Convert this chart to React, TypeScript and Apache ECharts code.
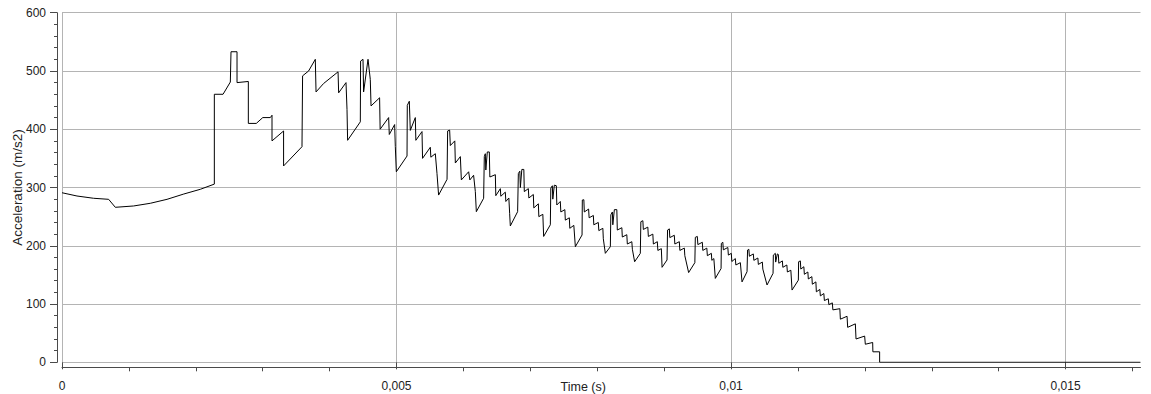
import React, { useEffect, useRef } from "react";
import * as echarts from "echarts";

// Time (s)
const timeS: number[] = [
  0, 0.000224, 0.000472, 0.000697, 0.000797, 0.00107, 0.00132, 0.00157, 0.00182, 0.002067, 0.002277,
  0.002277, 0.002407, 0.002516, 0.002526, 0.002616, 0.002616, 0.002785, 0.002785, 0.002904, 0.003001,
  0.003114, 0.003139, 0.003139, 0.003312, 0.003312, 0.003587, 0.003596, 0.003686, 0.003786, 0.003797,
  0.00391, 0.004126, 0.004135, 0.004245, 0.00426, 0.004269, 0.004459, 0.004463, 0.004499, 0.004508,
  0.004574, 0.004608, 0.004619, 0.004747, 0.004755, 0.004882, 0.004892, 0.004972, 0.004982, 0.004997,
  0.005157,
  0.005161, 0.005191, 0.005206, 0.005281, 0.005289, 0.005381, 0.005389, 0.005505, 0.005513, 0.00558,
  0.005605, 0.005629, 0.005755, 0.005764, 0.005794,
  0.005804, 0.005871, 0.005879, 0.005954, 0.005969, 0.006078, 0.006096, 0.006152, 0.006178, 0.006193,
  0.006302, 0.006312, 0.006327, 0.006335, 0.006357, 0.006387, 0.006395,
  0.006477, 0.006484, 0.006552, 0.006559, 0.006626, 0.006634, 0.006679, 0.006691, 0.006701, 0.00681,
  0.006821, 0.006843, 0.006851, 0.006873, 0.006903, 0.00691, 0.00697, 0.006978, 0.007045, 0.007052,
  0.00712, 0.007127, 0.007187, 0.007199, 0.007299, 0.007306, 0.007329, 0.007336, 0.007359, 0.007389,
  0.007396,
  0.007448, 0.007456, 0.007516, 0.007523, 0.007583, 0.00759, 0.00765, 0.007673, 0.007773, 0.007777,
  0.0078, 0.007807, 0.007871, 0.007879, 0.007942, 0.007949, 0.008016, 0.008024, 0.008084, 0.008091,
  0.008121, 0.008196, 0.008203, 0.008226, 0.008233, 0.008256, 0.008293, 0.0083,
  0.008368, 0.008375, 0.008442, 0.00845, 0.008517, 0.008525, 0.008559, 0.008644, 0.008652,
  0.008682, 0.008689, 0.008756, 0.008764, 0.008831, 0.008839, 0.008898, 0.008906, 0.008958, 0.008969,
  0.009043, 0.009051,
  0.009078, 0.009085, 0.009152, 0.00916, 0.009227, 0.009235, 0.009302, 0.009309, 0.009366, 0.009459,
  0.009466,
  0.009496, 0.009504, 0.009571, 0.009578, 0.009638, 0.009646, 0.009706, 0.009713, 0.009743, 0.009765,
  0.009851, 0.009855, 0.009877,
  0.009885, 0.009952, 0.00996, 0.010004, 0.010012, 0.010064, 0.010072, 0.010139, 0.010164, 0.010239,
  0.010247,
  0.010266, 0.010274, 0.010333, 0.010341, 0.010401, 0.010408, 0.010468, 0.010475, 0.010538, 0.010628,
  0.010632, 0.010662, 0.010667, 0.010692, 0.010707, 0.010714,
  0.010767, 0.010774, 0.010834, 0.010842, 0.010894, 0.010912, 0.011006, 0.01101,
  0.011036, 0.011043, 0.011088, 0.011096, 0.011148, 0.011155, 0.011208, 0.011215, 0.011268, 0.011275,
  0.011327, 0.011335, 0.011387, 0.011395, 0.011454, 0.011462, 0.011514, 0.011522, 0.011626, 0.011634,
  0.011734, 0.011743, 0.011858, 0.011868, 0.011997, 0.012007, 0.012117, 0.01212, 0.012221, 0.012221,
  0.016118,
];

// Acceleration (m/s2)
const accel: number[] = [
  291, 285.4, 281.5, 279.7, 266, 268.3, 272.9, 279.7, 288.8, 296.9, 305.8,
  460, 460, 481, 533, 533, 480, 482, 410, 410, 420,
  420, 424, 380, 397, 337, 370, 491.6, 500, 520, 464,
  478.5, 498.5, 462.5, 480, 434, 381, 412.7, 517, 520, 464,
  520, 485.5, 440, 454, 400, 420, 391, 408, 370, 327,
  354,
  441, 448, 398, 420, 381, 396, 350, 369, 352, 358,
  324, 287, 314, 397, 398.5,
  372, 380, 342, 353, 313, 327, 313, 321, 293, 258.5,
  281.5, 353, 358, 330, 361, 361, 318,
  322, 286, 298, 285, 292, 276, 282, 255, 234, 258.5,
  324, 328, 300, 331, 331, 293, 298, 282, 288, 265,
  272, 250, 254, 216, 236, 299, 303, 280, 304, 303,
  270,
  276, 258, 262, 244, 248, 230, 235, 198.4, 218.5, 278.5,
  279, 258, 263, 248, 252, 236, 240, 226, 230, 212,
  187, 198.4, 253, 258, 236, 262, 262, 227,
  231, 215, 219, 203, 207, 194, 172.6, 187, 241.3,
  243, 228, 232, 216, 220, 203, 207, 192, 195, 163,
  175.6, 227,
  229, 214, 218, 203, 207, 192, 196, 183, 154, 171,
  214.5,
  216, 202, 206, 192, 196, 183, 187, 175, 178, 144,
  161, 204, 206,
  193, 197, 184, 187, 173, 178, 167, 171, 138, 155.5,
  192.7,
  194, 182, 186, 175, 179, 168, 172, 160, 132.7, 152.7,
  184, 187, 172, 186, 185, 170,
  174, 163, 167, 155, 158, 124, 141, 172.6,
  174, 160, 164, 151, 155, 143, 147, 134, 138, 121,
  125, 114, 118, 106, 109, 99, 102, 90, 92, 74,
  79, 60, 66, 40, 45, 31, 34, 18, 18, 0,
  0,
];

const X_MAX = 0.01612;
const X_STEP = 0.005;
const X_MAJOR = [0, 0.005, 0.01, 0.015];
const X_MINOR = [0.001, 0.002, 0.003, 0.004, 0.006, 0.007, 0.008, 0.009, 0.011, 0.012, 0.013, 0.014, 0.016];
const Y_MIN = 0;
const Y_MAX = 600;
const Y_STEP = 100;

const FONT = "'Liberation Sans', Arial, sans-serif";
const TEXT_COLOR = "#222";
const AXIS_COLOR = "#4a4a4a";
const GRID_COLOR = "#b4b4b4";

export default function App() {
  const ref = useRef<HTMLDivElement>(null);

  useEffect(() => {
    document.body.style.margin = "0";
    if (!ref.current) return;
    const chart = echarts.init(ref.current, null, { renderer: "svg" });
    const points = timeS.map((t, i) => [t, accel[i]]);
    const fmt = (v: number) => String(v).replace(".", ",");

    chart.setOption({
      animation: false,
      backgroundColor: "#ffffff",
      textStyle: { fontFamily: FONT },
      grid: { left: 62, right: 10.5, top: 12.7, bottom: 31.7, containLabel: false, outerBoundsMode: "none" },
      xAxis: [
        {
          // data axis: axis line, name and vertical grid lines
          type: "value",
          position: "bottom",
          min: 0,
          max: X_MAX,
          interval: X_STEP,
          offset: 5,
          name: "Time (s)",
          nameLocation: "middle",
          nameGap: 13,
          nameMoveOverlap: false,
          nameTextStyle: {
            color: TEXT_COLOR,
            fontSize: 12.5,
            fontFamily: FONT,
            padding: [0, 36, 0, 0],
          },
          axisLine: { show: true, onZero: false, lineStyle: { color: AXIS_COLOR, width: 1 } },
          axisTick: { show: false },
          axisLabel: { show: false },
          splitLine: { show: true, showMinLine: true, showMaxLine: false, lineStyle: { color: GRID_COLOR, width: 1 } },
        },
        {
          // major ticks and labels
          type: "value",
          position: "bottom",
          min: 0,
          max: X_MAX,
          interval: X_STEP,
          offset: 5,
          axisLine: { show: false },
          axisTick: { show: true, length: 7, customValues: X_MAJOR, lineStyle: { color: AXIS_COLOR } },
          axisLabel: {
            customValues: X_MAJOR,
            formatter: fmt,
            margin: 13,
            color: TEXT_COLOR,
            fontSize: 12,
            fontFamily: FONT,
          },
          splitLine: { show: false },
        },
        {
          // minor ticks
          type: "value",
          position: "bottom",
          min: 0,
          max: X_MAX,
          interval: 0.001,
          offset: 5,
          axisLine: { show: false },
          axisTick: { show: true, length: 4, customValues: X_MINOR, lineStyle: { color: AXIS_COLOR } },
          axisLabel: { show: false },
          splitLine: { show: false },
        },
      ],
      yAxis: {
        type: "value",
        min: Y_MIN,
        max: Y_MAX,
        interval: Y_STEP,
        offset: 5,
        name: "Acceleration (m/s2)",
        nameLocation: "middle",
        nameGap: 33,
        nameMoveOverlap: false,
        nameTextStyle: { color: TEXT_COLOR, fontSize: 13.5, fontFamily: FONT },
        axisLine: { show: true, onZero: false, lineStyle: { color: AXIS_COLOR, width: 1 } },
        axisTick: { show: true, length: 7, lineStyle: { color: AXIS_COLOR } },
        minorTick: { show: true, splitNumber: 5, length: 3, lineStyle: { color: AXIS_COLOR } },
        axisLabel: { margin: 11, color: TEXT_COLOR, fontSize: 12, fontFamily: FONT },
        splitLine: { show: true, lineStyle: { color: GRID_COLOR, width: 1 } },
      },
      series: [
        {
          type: "line",
          xAxisIndex: 0,
          data: points,
          showSymbol: false,
          symbol: "none",
          silent: true,
          lineStyle: { color: "#000000", width: 1 },
        },
      ],
    });

    return () => chart.dispose();
  }, []);

  return <div ref={ref} style={{ width: 1151, height: 394 }} />;
}
